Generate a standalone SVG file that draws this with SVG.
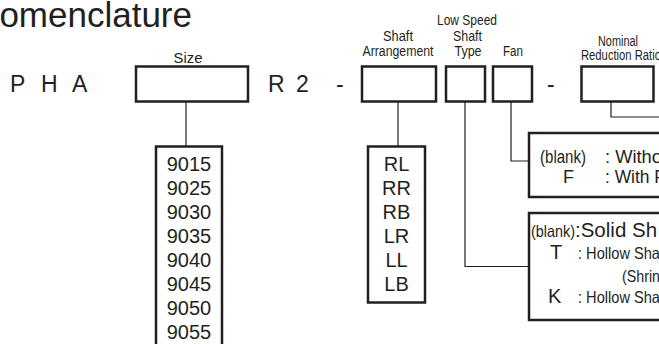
<svg xmlns="http://www.w3.org/2000/svg" width="659" height="344" viewBox="0 0 659 344">
<style>
  .box { fill: #fff; stroke: #231f20; stroke-width: 2.5; }
  .conn { fill: none; stroke: #231f20; stroke-width: 1.2; }
  text { font-family: "Liberation Sans", Arial, sans-serif; fill: #231f20; }
  .big { font-size: 23px; }
  .lbl { font-size: 15.5px; text-anchor: middle; }
  .lst { font-size: 20px; text-anchor: middle; }
  .desc { font-size: 18px; }
  .cond { font-size: 16.5px; }
</style>
<rect width="659" height="344" fill="#fff"/>
<text x="192" y="27" font-size="35" text-anchor="end">Nomenclature</text>

<g id="prefix">
  <text class="big" x="10" y="92">P</text>
  <text class="big" x="41" y="92">H</text>
  <text class="big" x="72" y="92">A</text>
</g>
<g id="series">
  <text class="big" x="268" y="92">R</text>
  <text class="big" x="296" y="92">2</text>
  <text class="big" x="336" y="92">-</text>
  <text class="big" x="547" y="92">-</text>
</g>

<g id="size">
  <text class="lbl" x="188" y="63" textLength="29" lengthAdjust="spacingAndGlyphs" font-size="17.5">Size</text>
  <rect class="box" x="136" y="66.5" width="112" height="35"/>
</g>
<g id="shaft-arrangement">
  <text class="lbl" x="398" y="41" textLength="30" lengthAdjust="spacingAndGlyphs">Shaft</text>
  <text class="lbl" x="398" y="56" textLength="71" lengthAdjust="spacingAndGlyphs">Arrangement</text>
  <rect class="box" x="362" y="66.5" width="74" height="35"/>
</g>
<g id="lss-type">
  <text class="lbl" x="467" y="25" textLength="60" lengthAdjust="spacingAndGlyphs">Low Speed</text>
  <text class="lbl" x="467.5" y="41" textLength="29" lengthAdjust="spacingAndGlyphs">Shaft</text>
  <text class="lbl" x="468" y="56" textLength="27" lengthAdjust="spacingAndGlyphs">Type</text>
  <rect class="box" x="446" y="66.5" width="39" height="35"/>
</g>
<g id="fan">
  <text class="lbl" x="513" y="56" textLength="20" lengthAdjust="spacingAndGlyphs">Fan</text>
  <rect class="box" x="493" y="66.5" width="39" height="35"/>
</g>
<g id="ratio">
  <text class="lbl" x="618" y="46" textLength="40" lengthAdjust="spacingAndGlyphs" font-size="14">Nominal</text>
  <text x="581" y="60" font-size="14" textLength="80" lengthAdjust="spacingAndGlyphs">Reduction Ratio</text>
  <rect class="box" x="581.5" y="66.5" width="72" height="35"/>
</g>

<g id="connectors">
  <path class="conn" d="M186,101.5 V146.5"/>
  <path class="conn" d="M398,101.5 V146.5"/>
  <path class="conn" d="M465,101.5 V266.5 H529"/>
  <path class="conn" d="M511,101.5 V161 H529"/>
  <path class="conn" d="M611,101.5 V117 H659"/>
</g>

<g id="size-list">
  <rect class="box" x="156" y="146.5" width="66" height="210"/>
  <text class="lst" x="189" y="171">9015</text>
  <text class="lst" x="189" y="195">9025</text>
  <text class="lst" x="189" y="219">9030</text>
  <text class="lst" x="189" y="243">9035</text>
  <text class="lst" x="189" y="267">9040</text>
  <text class="lst" x="189" y="291">9045</text>
  <text class="lst" x="189" y="315">9050</text>
  <text class="lst" x="189" y="339">9055</text>
</g>

<g id="arrangement-list">
  <rect class="box" x="368" y="146.5" width="57" height="156"/>
  <text class="lst" x="396.5" y="171">RL</text>
  <text class="lst" x="396.5" y="195">RR</text>
  <text class="lst" x="396.5" y="219">RB</text>
  <text class="lst" x="396.5" y="243">LR</text>
  <text class="lst" x="396.5" y="267">LL</text>
  <text class="lst" x="396.5" y="291">LB</text>
</g>

<g id="fan-list">
  <rect class="box" x="529" y="133" width="200" height="64"/>
  <text class="desc" x="540" y="163" textLength="46" lengthAdjust="spacingAndGlyphs">(blank)</text>
  <text class="desc" x="605" y="163" textLength="57" lengthAdjust="spacingAndGlyphs">: Witho</text>
  <text class="desc" x="563" y="183">F</text>
  <text class="desc" x="605" y="183" textLength="60" lengthAdjust="spacingAndGlyphs">: With F</text>
</g>

<g id="lss-list">
  <rect class="box" x="529" y="213" width="200" height="107"/>
  <text class="cond" x="531" y="237" textLength="44" lengthAdjust="spacingAndGlyphs">(blank)</text>
  <text x="575" y="237" font-size="20.5">:Solid Sh</text>
  <text x="550" y="259" font-size="20">T</text>
  <text class="cond" x="578" y="259" textLength="82" lengthAdjust="spacingAndGlyphs">: Hollow Sha</text>
  <text class="cond" x="622" y="282" textLength="38" lengthAdjust="spacingAndGlyphs">(Shrin</text>
  <text x="548" y="303" font-size="20">K</text>
  <text class="cond" x="578" y="303" textLength="82" lengthAdjust="spacingAndGlyphs">: Hollow Sha</text>
</g>
</svg>
